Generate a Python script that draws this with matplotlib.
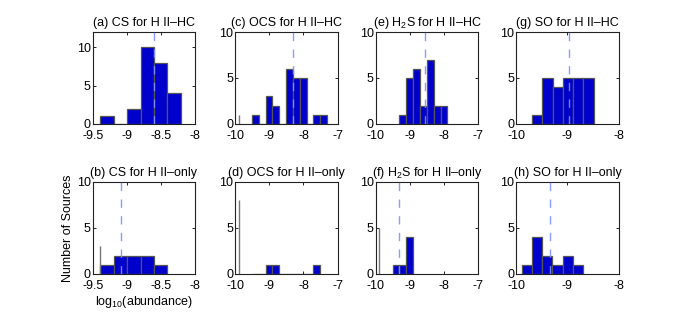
import numpy as np
import matplotlib
matplotlib.use('Agg')
import matplotlib.pyplot as plt
from matplotlib.ticker import FormatStrFormatter

plt.rcParams['font.family'] = ['Liberation Sans', 'DejaVu Sans']
plt.rcParams['mathtext.fontset'] = 'custom'
plt.rcParams['mathtext.rm'] = 'Liberation Sans'
plt.rcParams['mathtext.it'] = 'Liberation Sans:italic'
plt.rcParams['axes.unicode_minus'] = True

# histogram data: first bin edge, bin width, counts, mean (dashed), limit line (x, height)
titles = ['(a) CS for H II\u2013HC', '(b) CS for H II\u2013only',
          '(c) OCS for H II\u2013HC', '(d) OCS for H II\u2013only',
          '(e) H$_2$S for H II\u2013HC', '(f) H$_2$S for H II\u2013only',
          '(g) SO for H II\u2013HC', '(h) SO for H II\u2013only']

start_a, width_a, counts_a, mean_a = -9.39, 0.197, [1, 0, 2, 10, 8, 4], -8.60
start_b, width_b, counts_b, mean_b = -9.39, 0.197, [1, 2, 2, 2, 1], -9.08
start_c, width_c, counts_c, mean_c = -9.516, 0.201, [1, 0, 3, 2, 0, 6, 5, 5, 0, 1, 1], -8.31
start_d, width_d, counts_d, mean_d = -9.516, 0.201, [0, 0, 1, 1, 0, 0, 0, 0, 0, 1], None
start_e, width_e, counts_e, mean_e = -9.307, 0.201, [1, 5, 6, 2, 7, 2, 2], -8.55
start_f, width_f, counts_f, mean_f = -9.508, 0.201, [1, 1, 4], -9.33
start_g, width_g, counts_g, mean_g = -9.69, 0.2, [1, 5, 4, 5, 5, 5], -8.96
start_h, width_h, counts_h, mean_h = -9.895, 0.2, [1, 4, 2, 1, 2, 1], -9.34

limit_b = (-9.39, 3)
limit_c = (-9.90, 1)
limit_d = (-9.90, 8)
limit_f = (-9.92, 5)

xlim_cs, xticks_cs = (-9.5, -8), [-9.5, -9, -8.5, -8]
xlim_ocs, xticks_ocs = (-10, -7), [-10, -9, -8, -7]
xlim_so, xticks_so = (-10, -8), [-10, -9, -8]

panels = [
    (start_a, width_a, counts_a, mean_a, None, xlim_cs, xticks_cs, 12),
    (start_b, width_b, counts_b, mean_b, limit_b, xlim_cs, xticks_cs, 10),
    (start_c, width_c, counts_c, mean_c, limit_c, xlim_ocs, xticks_ocs, 10),
    (start_d, width_d, counts_d, mean_d, limit_d, xlim_ocs, xticks_ocs, 10),
    (start_e, width_e, counts_e, mean_e, None, xlim_ocs, xticks_ocs, 10),
    (start_f, width_f, counts_f, mean_f, limit_f, xlim_ocs, xticks_ocs, 10),
    (start_g, width_g, counts_g, mean_g, None, xlim_so, xticks_so, 10),
    (start_h, width_h, counts_h, mean_h, None, xlim_so, xticks_so, 10),
]

fig = plt.figure(figsize=(6.82, 3.17), dpi=100)
lefts = [0.136, 0.345, 0.551, 0.757]
bottoms = [0.609, 0.136]

for i, (start, w, counts, mean, limit, xlim, xticks, ytop) in enumerate(panels):
    col, row = i // 2, i % 2
    ax = fig.add_axes([lefts[col], bottoms[row], 0.150, 0.290])
    edges = start + w * np.arange(len(counts))
    ax.bar(edges, counts, width=w, align='edge', color='#0000cc',
           edgecolor='#555555', linewidth=0.9, zorder=2)
    if limit is not None:
        ax.vlines(limit[0], 0, limit[1], color='#777777', linewidth=1.0, zorder=3)
    if mean is not None:
        ax.axvline(mean, color='#8090ff', linestyle=(0, (6, 6)),
                   linewidth=1.0, zorder=4, alpha=0.9)
    ax.set_xlim(xlim)
    ax.set_ylim(0, ytop)
    ax.set_xticks(xticks)
    ax.set_yticks([0, 5, 10])
    ax.xaxis.set_major_formatter(FormatStrFormatter('%g'))
    ax.tick_params(direction='in', top=True, right=True, length=2.5,
                   labelsize=9, width=0.6)
    ax.tick_params(axis='x', pad=4.5)
    ax.tick_params(axis='y', pad=1.5)
    for s in ax.spines.values():
        s.set_linewidth(0.8)
        s.set_color('#222222')
    ax.set_title(titles[i], fontsize=9, pad=4)
    if i == 1:
        ax.set_xlabel('log$_{10}$(abundance)', fontsize=9, labelpad=1)
        ax.set_ylabel('Number of Sources', fontsize=9, labelpad=2)

fig.savefig('out.png', dpi=100)
